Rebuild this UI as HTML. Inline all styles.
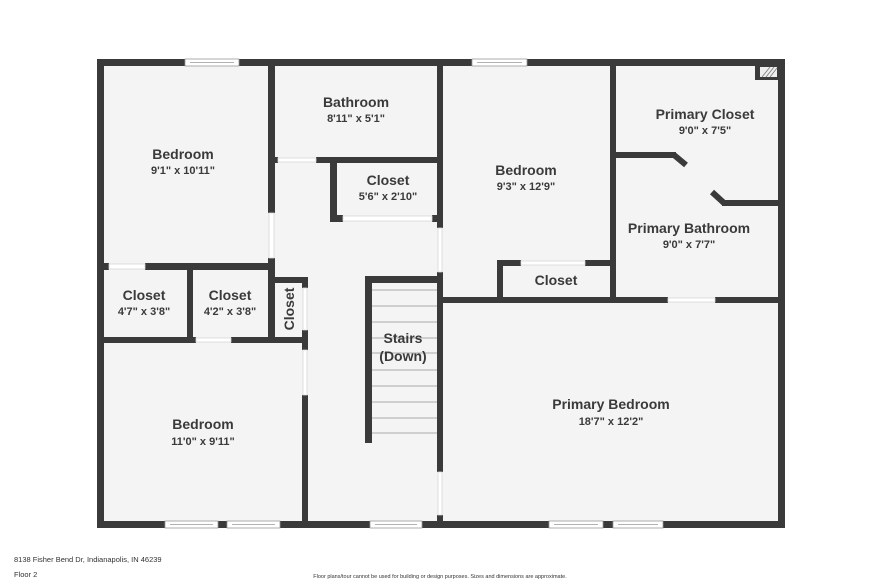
<!DOCTYPE html>
<html><head><meta charset="utf-8"><style>
html,body{margin:0;padding:0;background:#fff;width:882px;height:588px;overflow:hidden}
svg{display:block}
.t{font-family:"Liberation Sans",sans-serif;font-weight:bold;fill:#3a3a3a;text-anchor:middle}
.n{font-size:14px}.d{font-size:11px}
</style></head><body>
<svg width="882" height="588" viewBox="0 0 882 588" xmlns="http://www.w3.org/2000/svg">
<rect x="97" y="59" width="688" height="469" fill="#f4f4f4"/>
<g fill="#3a3a3a">
<rect x="97" y="59" width="688" height="7"/>
<rect x="97" y="521" width="688" height="7"/>
<rect x="97" y="59" width="7" height="469"/>
<rect x="778" y="59" width="7" height="469"/>
<rect x="268" y="59" width="7" height="154"/>
<rect x="268" y="258" width="7" height="85"/>
<rect x="268" y="157" width="10" height="6"/>
<rect x="316" y="157" width="127" height="6"/>
<rect x="437" y="59" width="6" height="169"/>
<rect x="437" y="272" width="6" height="200"/>
<rect x="437" y="515" width="6" height="13"/>
<rect x="330" y="157" width="7" height="65"/>
<rect x="330" y="215" width="13" height="7"/>
<rect x="432" y="215" width="11" height="7"/>
<rect x="97" y="263" width="12" height="7"/>
<rect x="145" y="263" width="130" height="7"/>
<rect x="187" y="263" width="6" height="80"/>
<rect x="97" y="337" width="99" height="6"/>
<rect x="231" y="337" width="77" height="6"/>
<rect x="268" y="277" width="40" height="6"/>
<rect x="302" y="277" width="6" height="11"/>
<rect x="302" y="330" width="6" height="20"/>
<rect x="302" y="395" width="6" height="133"/>
<rect x="365" y="276" width="78" height="7"/>
<rect x="365" y="276" width="7" height="167"/>
<rect x="610" y="59" width="6" height="244"/>
<rect x="497" y="260" width="6" height="43"/>
<rect x="497" y="260" width="24" height="6"/>
<rect x="585" y="260" width="31" height="6"/>
<rect x="437" y="297" width="231" height="6"/>
<rect x="715" y="297" width="70" height="6"/>
<rect x="616" y="152" width="60" height="6"/>
<rect x="722" y="200" width="57" height="6"/>
<rect x="755" y="66" width="23" height="14"/>
</g>
<path d="M674 155 L686 165" stroke="#3a3a3a" stroke-width="6"/>
<path d="M712 192 L724 203" stroke="#3a3a3a" stroke-width="6"/>
<rect x="760" y="67" width="17" height="10" fill="#eee"/>
<path d="M762 77 L770 67 M766 77 L774 67 M770 77 L777 68" stroke="#777" stroke-width="0.8"/>
<!-- door openings -->
<g fill="#fff" stroke="#d8d8d8" stroke-width="0.8">
<rect x="269" y="213" width="5" height="45"/>
<rect x="278" y="158" width="38" height="4"/>
<rect x="343" y="216" width="89" height="5"/>
<rect x="438" y="228" width="4" height="44"/>
<rect x="438" y="472" width="4" height="43"/>
<rect x="109" y="264" width="36" height="5"/>
<rect x="196" y="338" width="35" height="4"/>
<rect x="303" y="288" width="4" height="42"/>
<rect x="303" y="350" width="4" height="45"/>
<rect x="521" y="261" width="64" height="4"/>
<rect x="668" y="298" width="47" height="4"/>
</g>
<g stroke="#aaa" stroke-width="1">
<line x1="372" y1="290" x2="437" y2="290"/><line x1="372" y1="306" x2="437" y2="306"/>
<line x1="372" y1="322" x2="437" y2="322"/><line x1="372" y1="338" x2="437" y2="338"/>
<line x1="372" y1="353" x2="437" y2="353"/><line x1="372" y1="370" x2="437" y2="370"/>
<line x1="372" y1="386" x2="437" y2="386"/><line x1="372" y1="402" x2="437" y2="402"/>
<line x1="372" y1="418" x2="437" y2="418"/><line x1="372" y1="433" x2="437" y2="433"/>
</g>
<g fill="#fff" stroke="#999" stroke-width="0.8">
<rect x="185" y="59" width="54" height="7"/>
<rect x="472" y="59" width="55" height="7"/>
<rect x="165" y="521" width="53" height="7"/>
<rect x="227" y="521" width="53" height="7"/>
<rect x="370" y="521" width="52" height="7"/>
<rect x="549" y="521" width="54" height="7"/>
<rect x="613" y="521" width="50" height="7"/>
</g>
<g stroke="#999" stroke-width="0.8">
<line x1="190" y1="62.5" x2="234" y2="62.5"/><line x1="477" y1="62.5" x2="522" y2="62.5"/>
<line x1="170" y1="524.5" x2="213" y2="524.5"/><line x1="232" y1="524.5" x2="275" y2="524.5"/>
<line x1="375" y1="524.5" x2="417" y2="524.5"/><line x1="554" y1="524.5" x2="598" y2="524.5"/>
<line x1="618" y1="524.5" x2="658" y2="524.5"/>
</g>
<text class="t n" x="183" y="159">Bedroom</text><text class="t d" x="183" y="174">9'1" x 10'11"</text>
<text class="t n" x="356" y="107">Bathroom</text><text class="t d" x="356" y="122">8'11" x 5'1"</text>
<text class="t n" x="388" y="185">Closet</text><text class="t d" x="388" y="200">5'6" x 2'10"</text>
<text class="t n" x="526" y="175">Bedroom</text><text class="t d" x="526" y="190">9'3" x 12'9"</text>
<text class="t n" x="705" y="119">Primary Closet</text><text class="t d" x="705" y="134">9'0" x 7'5"</text>
<text class="t n" x="689" y="233">Primary Bathroom</text><text class="t d" x="689" y="248">9'0" x 7'7"</text>
<text class="t n" x="556" y="285">Closet</text>
<text class="t n" x="144" y="300">Closet</text><text class="t d" x="144" y="315">4'7" x 3'8"</text>
<text class="t n" x="230" y="300">Closet</text><text class="t d" x="230" y="315">4'2" x 3'8"</text>
<text class="t n" transform="translate(294,309) rotate(-90)">Closet</text>
<text class="t n" x="403" y="343">Stairs</text><text class="t n" x="403" y="361">(Down)</text>
<text class="t n" x="203" y="429">Bedroom</text><text class="t d" x="203" y="445">11'0" x 9'11"</text>
<text class="t n" x="611" y="409">Primary Bedroom</text><text class="t d" x="611" y="425">18'7" x 12'2"</text>
<text x="14" y="562" style="font-family:'Liberation Sans',sans-serif;font-size:7.5px;fill:#333">8138 Fisher Bend Dr, Indianapolis, IN 46239</text>
<text x="14" y="577" style="font-family:'Liberation Sans',sans-serif;font-size:7.5px;fill:#333">Floor 2</text>
<text x="440" y="578" style="font-family:'Liberation Sans',sans-serif;font-size:5.5px;fill:#333;text-anchor:middle">Floor plans/tour cannot be used for building or design purposes. Sizes and dimensions are approximate.</text>
</svg>
</body></html>
